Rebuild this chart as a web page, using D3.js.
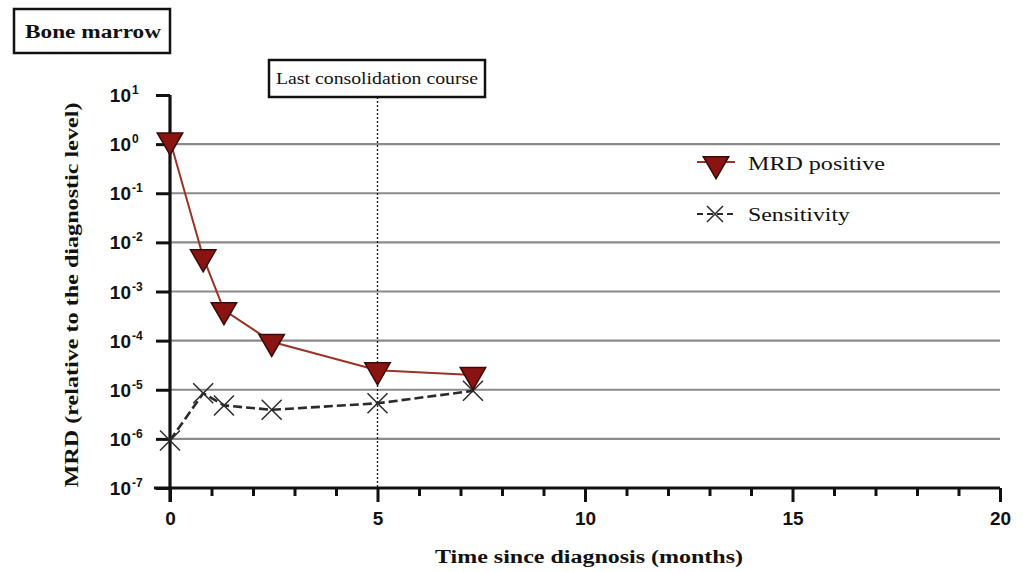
<!DOCTYPE html>
<html>
<head>
<meta charset="utf-8">
<script src="https://cdn.jsdelivr.net/npm/d3@7"></script>
<style>
  html, body { margin: 0; padding: 0; background: #fff; }
  svg { display: block; }
</style>
</head>
<body>
<script>
// Months since diagnosis at which bone marrow samples were measured
const months = [0, 0.8, 1.3, 2.45, 5, 7.3];
// MRD level relative to the diagnostic level
const mrdPositive = [1.2, 5e-3, 4.2e-4, 9.5e-5, 2.5e-5, 2e-5];
// Assay sensitivity at each time point
const sensitivity = [9.3e-7, 8.5e-6, 4.8e-6, 3.9e-6, 5.3e-6, 9.5e-6];
// Axis ticks
const xMajorTicks = [0, 5, 10, 15, 20];
const xMinorTicks = d3.range(0, 21);
const yExponents = [1, 0, -1, -2, -3, -4, -5, -6, -7];
const gridExponents = [0, -1, -2, -3, -4, -5, -6];
const lastConsolidation = 5;

const W = 1023, H = 572;
const svg = d3.select("body").append("svg").attr("width", W).attr("height", H);

const x = d3.scaleLinear().domain([0, 20]).range([170, 1000]);
const y = d3.scaleLog().domain([1e-7, 10]).range([488, 95]);

const serif = "'Liberation Serif', 'Times New Roman', Times, serif";
const sans = "'Liberation Sans', Arial, sans-serif";

// Horizontal gridlines at each decade
svg.append("g").selectAll("line").data(gridExponents).join("line")
  .attr("x1", x(0)).attr("x2", x(20))
  .attr("y1", d => y(Math.pow(10, d))).attr("y2", d => y(Math.pow(10, d)))
  .attr("stroke", "#8a8a8a").attr("stroke-width", 2.2);

// Marker for the last consolidation course
svg.append("line")
  .attr("x1", x(lastConsolidation)).attr("x2", x(lastConsolidation))
  .attr("y1", 97).attr("y2", y(1e-7))
  .attr("stroke", "#222").attr("stroke-width", 1.4).attr("stroke-dasharray", "2,2");

const lcBox = svg.append("g");
lcBox.append("rect").attr("x", 269).attr("y", 60).attr("width", 216).attr("height", 37)
  .attr("fill", "#fff").attr("stroke", "#111").attr("stroke-width", 2.5);
lcBox.append("text").attr("x", 377).attr("y", 84).attr("text-anchor", "middle")
  .attr("font-family", serif).attr("font-size", 16).attr("fill", "#111")
  .attr("textLength", 202).attr("lengthAdjust", "spacingAndGlyphs")
  .text("Last consolidation course");

// Panel label
svg.append("rect").attr("x", 14).attr("y", 9).attr("width", 156).attr("height", 44)
  .attr("fill", "#fff").attr("stroke", "#111").attr("stroke-width", 2.5);
svg.append("text").attr("x", 93).attr("y", 38).attr("text-anchor", "middle")
  .attr("font-family", serif).attr("font-weight", "bold").attr("font-size", 18).attr("fill", "#111")
  .attr("textLength", 136).attr("lengthAdjust", "spacingAndGlyphs")
  .text("Bone marrow");

// Y axis
const yAxis = svg.append("g").attr("transform", `translate(${x(0)},0)`)
  .call(d3.axisLeft(y).tickValues(yExponents.map(e => Math.pow(10, e)))
    .tickFormat("").tickSize(14).tickSizeOuter(0));
yAxis.select(".domain").attr("stroke", "#111").attr("stroke-width", 3.2);
yAxis.selectAll(".tick line").attr("stroke", "#111").attr("stroke-width", 3);
yAxis.select(".domain").attr("d", `M0,${y(1e-7) + 14}V${y(10)}`);

svg.append("g").selectAll("text").data(yExponents).join("text")
  .attr("x", 131).attr("y", d => y(Math.pow(10, d)) + 7)
  .attr("text-anchor", "end")
  .attr("font-family", sans).attr("font-weight", "bold").attr("font-size", 19).attr("fill", "#111")
  .text("10");
svg.append("g").selectAll("text").data(yExponents).join("text")
  .attr("x", 132).attr("y", d => y(Math.pow(10, d)) - 1)
  .attr("font-family", sans).attr("font-weight", "bold").attr("font-size", 12).attr("fill", "#111")
  .text(d => d < 0 ? "-" + Math.abs(d) : String(d));

// X axis with monthly minor ticks
const xAxisY = y(1e-7);
svg.append("g").attr("transform", `translate(0,${xAxisY})`)
  .call(d3.axisBottom(x).tickValues(xMinorTicks.filter(v => v % 5 !== 0)).tickFormat("").tickSize(8).tickSizeOuter(0))
  .call(g => { g.select(".domain").remove(); g.selectAll(".tick line").attr("stroke", "#111").attr("stroke-width", 3); });
const xAxis = svg.append("g").attr("transform", `translate(0,${xAxisY})`)
  .call(d3.axisBottom(x).tickValues(xMajorTicks).tickFormat(d3.format("d")).tickSize(14).tickSizeOuter(0).tickPadding(7));
xAxis.select(".domain").attr("stroke", "#111").attr("stroke-width", 3.2).attr("d", `M${x(0) - 16},0H${x(20)}`);
xAxis.selectAll(".tick line").attr("stroke", "#111").attr("stroke-width", 3);
xAxis.selectAll(".tick text").attr("font-family", sans).attr("font-weight", "bold")
  .attr("font-size", 19).attr("fill", "#111").attr("dy", "0.85em");

// Axis titles
svg.append("text").attr("x", 589).attr("y", 563).attr("text-anchor", "middle")
  .attr("font-family", serif).attr("font-weight", "bold").attr("font-size", 18).attr("fill", "#111")
  .attr("textLength", 308).attr("lengthAdjust", "spacingAndGlyphs")
  .text("Time since diagnosis (months)");
svg.append("text").attr("transform", "translate(78,295) rotate(-90)").attr("text-anchor", "middle")
  .attr("font-family", serif).attr("font-weight", "bold").attr("font-size", 18).attr("fill", "#111")
  .attr("textLength", 385).attr("lengthAdjust", "spacingAndGlyphs")
  .text("MRD (relative to the diagnostic level)");

// Series
const mrdPts = months.map((m, i) => [m, mrdPositive[i]]);
const sensPts = months.map((m, i) => [m, sensitivity[i]]);
const line = d3.line().x(d => x(d[0])).y(d => y(d[1]));

const redLine = "#9a3426";
const triFill = "#8a1412";
const xColor = "#2a2a2a";

svg.append("path").datum(sensPts).attr("d", line).attr("fill", "none")
  .attr("stroke", xColor).attr("stroke-width", 2.6).attr("stroke-dasharray", "9,4");
svg.append("path").datum(mrdPts).attr("d", line).attr("fill", "none")
  .attr("stroke", redLine).attr("stroke-width", 2);

const crossPath = (s) => `M${-s},${-s}L${s},${s}M${-s},${s}L${s},${-s}`;
svg.append("g").selectAll("path").data(sensPts).join("path")
  .attr("transform", d => `translate(${x(d[0])},${y(d[1])})`)
  .attr("d", crossPath(10)).attr("stroke", xColor).attr("stroke-width", 1.5).attr("fill", "none");

const tri = d3.symbol().type(d3.symbolTriangle).size(280);
svg.append("g").selectAll("path").data(mrdPts).join("path")
  .attr("transform", d => `translate(${x(d[0])},${y(d[1])}) rotate(180)`)
  .attr("d", tri).attr("fill", triFill).attr("stroke", "#3a0a08").attr("stroke-width", 1.5);

// Legend
const legend = svg.append("g");
legend.append("line").attr("x1", 697).attr("x2", 735).attr("y1", 162).attr("y2", 162)
  .attr("stroke", redLine).attr("stroke-width", 2);
legend.append("path").attr("transform", "translate(716,164) rotate(180)")
  .attr("d", tri).attr("fill", triFill).attr("stroke", "#3a0a08").attr("stroke-width", 1.5);
legend.append("text").attr("x", 748).attr("y", 170)
  .attr("font-family", serif).attr("font-size", 19).attr("fill", "#111")
  .attr("textLength", 137).attr("lengthAdjust", "spacingAndGlyphs").text("MRD positive");

legend.append("line").attr("x1", 697).attr("x2", 733).attr("y1", 214).attr("y2", 214)
  .attr("stroke", xColor).attr("stroke-width", 2).attr("stroke-dasharray", "6,4");
legend.append("path").attr("transform", "translate(715,214)")
  .attr("d", crossPath(8)).attr("stroke", xColor).attr("stroke-width", 1.5).attr("fill", "none");
legend.append("text").attr("x", 748).attr("y", 221)
  .attr("font-family", serif).attr("font-size", 19).attr("fill", "#111")
  .attr("textLength", 102).attr("lengthAdjust", "spacingAndGlyphs").text("Sensitivity");
</script>
</body>
</html>
